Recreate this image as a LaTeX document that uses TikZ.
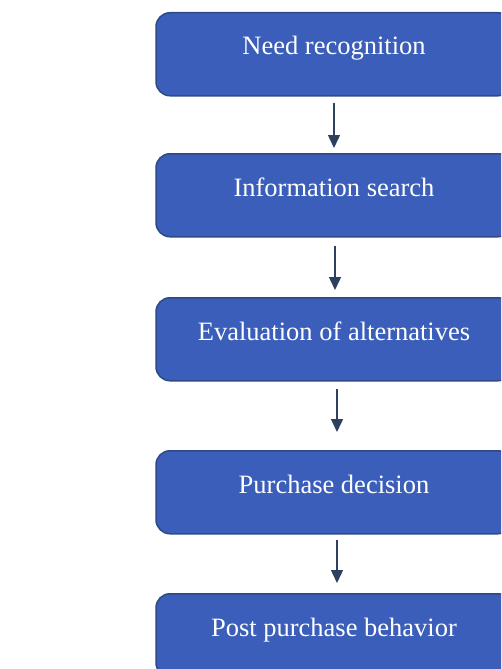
\documentclass[tikz,border=0pt]{standalone}
\usepackage{fontspec}
\setmainfont{Liberation Serif}
\usetikzlibrary{arrows.meta}
\definecolor{boxfill}{HTML}{3A5EBA}
\definecolor{boxline}{HTML}{2E4A86}
\definecolor{arrowcol}{HTML}{2F3F5F}
\tikzset{
  stepbox/.style={draw=boxline, line width=1.5pt, fill=boxfill, rounded corners=14pt,
    minimum width=356pt, minimum height=83pt, inner sep=0pt, anchor=north},
  steptext/.style={text=white, anchor=base, inner sep=0pt, font=\fontsize{26.5}{30}\selectfont},
  flow/.style={draw=arrowcol, line width=1.4pt, -{Triangle[length=13pt,width=12pt]}}
}
\begin{document}
\begin{tikzpicture}[x=1pt,y=-1pt]
\clip (0,0) rectangle (501,669);
\fill[white] (0,0) rectangle (501,669);
\node[stepbox] (b1) at (334,12) {};
\node[stepbox] (b2) at (334,153) {};
\node[stepbox] (b3) at (334,297) {};
\node[stepbox] (b4) at (334,450) {};
\node[stepbox] (b5) at (334,593) {};
\node[steptext] (t1) at (334,55) {Need recognition};
\node[steptext] (t2) at (334,196) {Information search};
\node[steptext] (t3) at (334,340) {Evaluation of alternatives};
\node[steptext] (t4) at (334,493) {Purchase decision};
\node[steptext] (t5) at (334,636) {Post purchase behavior};
\draw[flow, shorten <=6pt, shorten >=5pt] (b1.south) -- (b2.north);
\draw[flow, shorten <=8pt, shorten >=7pt] ([xshift=1pt]b2.south) -- ([xshift=1pt]b3.north);
\draw[flow, shorten <=7pt, shorten >=18pt] ([xshift=3pt]b3.south) -- ([xshift=3pt]b4.north);
\draw[flow, shorten <=5pt, shorten >=10pt] ([xshift=3pt]b4.south) -- ([xshift=3pt]b5.north);
\end{tikzpicture}
\end{document}
